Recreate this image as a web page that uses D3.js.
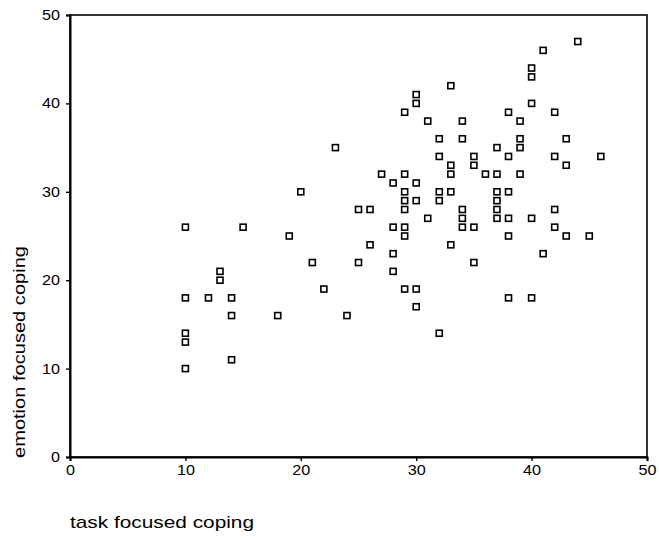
<!DOCTYPE html>
<html>
<head>
<meta charset="utf-8">
<script src="https://cdn.jsdelivr.net/npm/d3@7"></script>
<style>
  body { margin: 0; background: #ffffff; }
  svg { display: block; }
</style>
</head>
<body>
<div id="main_output"></div>
<script>
// task focused coping (x) vs emotion focused coping (y), one entry per respondent
var task = [10,10,10,10,10, 12,13,13,14,14,14,15,
            18,19,20,21,22,23,24,
            25,25,26,26,27,
            28,28,28,28,
            29,29,29,29,29,29,29,29,
            30,30,30,30,30,30,
            31,31,
            32,32,32,32,32,
            33,33,33,33,33,
            34,34,34,34,34,
            35,35,35,35,
            36,
            37,37,37,37,37,37,
            38,38,38,38,38,38,
            39,39,39,39,
            40,40,40,40,40,
            41,41,
            42,42,42,42,
            43,43,43,
            44,45,46];
var emotion = [26,18,14,13,10, 18,21,20,18,16,11,26,
               16,25,30,22,19,35,16,
               28,22,28,24,32,
               31,26,23,21,
               39,32,30,29,28,26,25,19,
               41,40,31,29,19,17,
               38,27,
               36,34,30,29,14,
               42,33,32,30,24,
               38,36,28,27,26,
               34,33,26,22,
               32,
               35,32,30,29,28,27,
               39,34,30,27,25,18,
               38,36,35,32,
               44,43,40,27,18,
               46,23,
               39,34,28,26,
               36,33,25,
               47,25,34];

var xTicks = [0, 10, 20, 30, 40, 50];
var yTicks = [0, 10, 20, 30, 40, 50];

var W = 659, H = 542;
var margin = {top: 15, right: 12, bottom: 85, left: 70};

var x = d3.scaleLinear().domain([0, 50]).range([margin.left, W - margin.right]);
var y = d3.scaleLinear().domain([0, 50]).range([H - margin.bottom, margin.top]);

var svg = d3.select("#main_output")
  .append("svg")
  .attr("width", W)
  .attr("height", H)
  .style("font-family", "Arial, 'Liberation Sans', sans-serif");

// frame round the plot
svg.append("rect")
  .attr("x", x(0))
  .attr("y", y(50))
  .attr("width", x(50) - x(0))
  .attr("height", y(0) - y(50))
  .attr("fill", "none")
  .attr("stroke", "#000")
  .attr("stroke-width", 1.6);

var xAxis = d3.axisBottom(x).tickValues(xTicks).tickSize(4).tickPadding(4).tickFormat(d3.format("d"));
var yAxis = d3.axisLeft(y).tickValues(yTicks).tickSize(4).tickPadding(6).tickFormat(d3.format("d"));

var gx = svg.append("g")
  .attr("transform", "translate(0," + y(0) + ")")
  .call(xAxis);

var gy = svg.append("g")
  .attr("transform", "translate(" + x(0) + ",0)")
  .call(yAxis);

// the scanned labels are a bit wider than plain Arial, so stretch them
[gx, gy].forEach(function(g) {
  g.select(".domain").attr("stroke", "#000").attr("stroke-width", 2);
  g.selectAll(".tick line").attr("stroke", "#000").attr("stroke-width", 1.4);
  g.selectAll(".tick text")
    .attr("fill", "#000")
    .style("font-size", "14px")
    .style("font-family", "Arial, 'Liberation Sans', sans-serif")
    .attr("textLength", function(d) { return String(d).length * 9; })
    .attr("lengthAdjust", "spacingAndGlyphs");
});

// points
svg.append("g")
  .selectAll("rect")
  .data(task.map(function(d, i) { return [d, emotion[i]]; }))
  .enter()
  .append("rect")
  .attr("x", function(d) { return x(d[0]) - 3; })
  .attr("y", function(d) { return y(d[1]) - 3; })
  .attr("width", 6)
  .attr("height", 6)
  .attr("fill", "#fff")
  .attr("stroke", "#000")
  .attr("stroke-width", 1.6);

// axis titles
svg.append("text")
  .attr("x", x(0))
  .attr("y", 528)
  .style("font-size", "17px")
  .attr("fill", "#000")
  .attr("textLength", 184)
  .attr("lengthAdjust", "spacingAndGlyphs")
  .text("task focused coping");

svg.append("text")
  .attr("transform", "translate(25,458) rotate(-90)")
  .style("font-size", "17px")
  .attr("fill", "#000")
  .attr("textLength", 212)
  .attr("lengthAdjust", "spacingAndGlyphs")
  .text("emotion focused coping");
</script>
</body>
</html>
